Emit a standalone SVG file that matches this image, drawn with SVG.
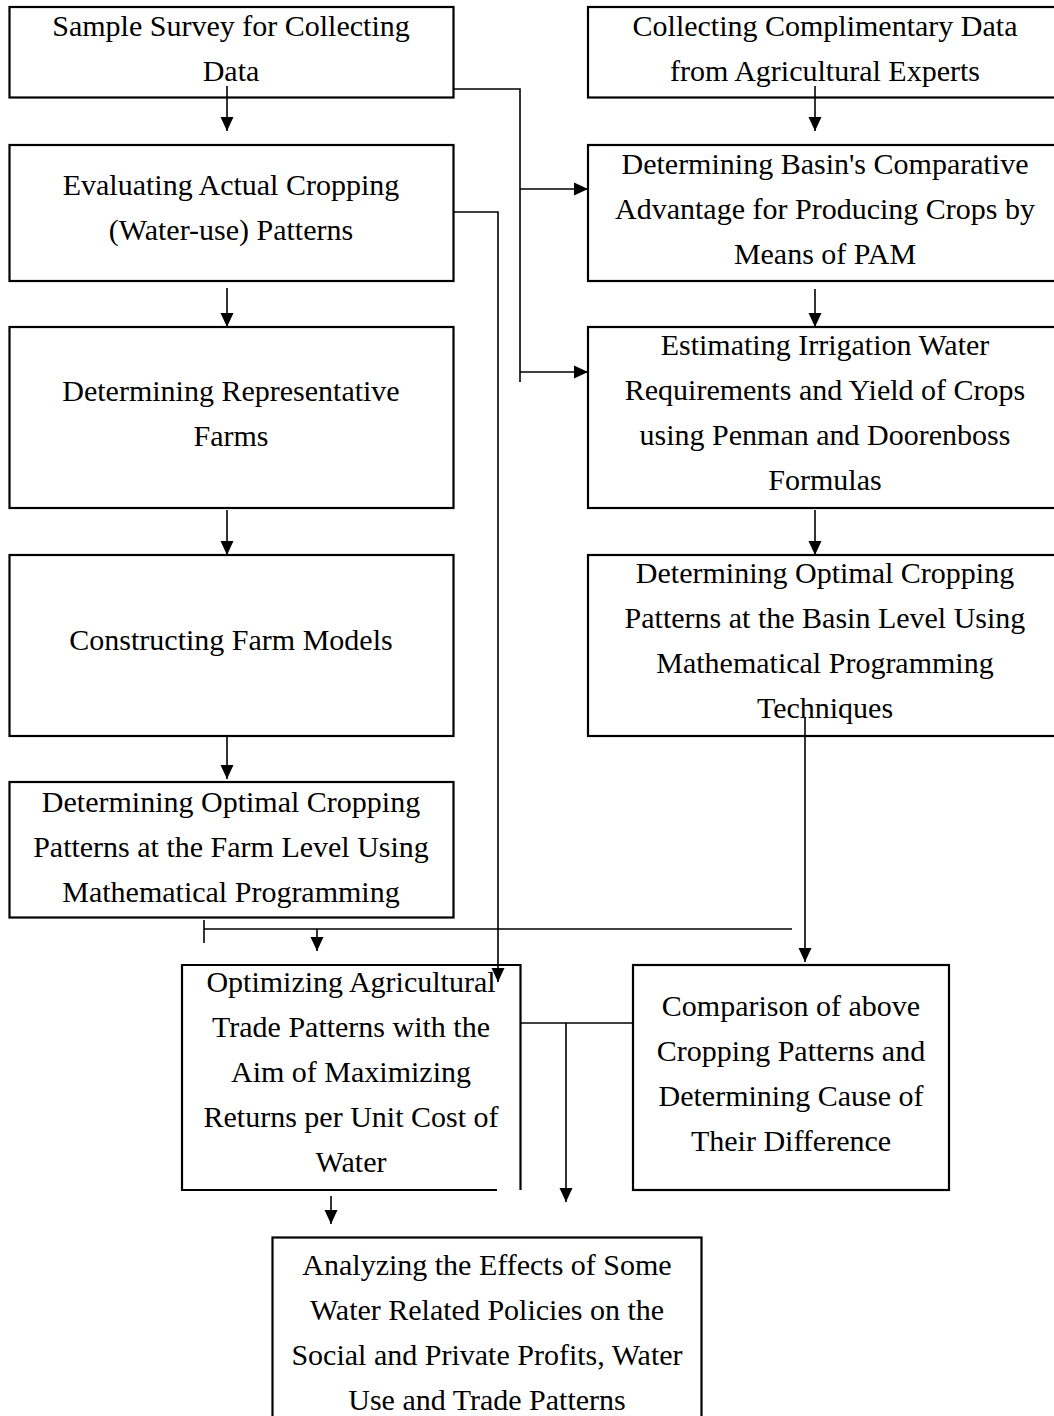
<svg xmlns="http://www.w3.org/2000/svg" width="1054" height="1416" viewBox="0 0 1054 1416">
<style>
  .box{fill:#fff;stroke:#000;stroke-width:2.2}
  .edge{fill:none;stroke:#000;stroke-width:2.2}
  .t{font-family:"Liberation Serif","Times New Roman",serif;font-size:30px;fill:#000;text-anchor:middle}
  .c{fill:none;stroke:#000;stroke-width:1.6}
</style>
<defs>
  <marker id="ah" markerUnits="userSpaceOnUse" markerWidth="14" markerHeight="14" viewBox="0 0 14 14" refX="14" refY="7" orient="auto">
    <path d="M0,0.5 L14,7 L0,13.5 Z" fill="#000"/>
  </marker>
</defs>
<rect width="1054" height="1416" fill="#fff"/>

<g id="n1"><rect class="box" x="9.5" y="7" width="444" height="90.5"/>
  <text class="t" x="231" y="36">Sample Survey for Collecting</text>
  <text class="t" x="231" y="81">Data</text></g>
<g id="n2"><rect class="box" x="9.5" y="145" width="444" height="136"/>
  <text class="t" x="231" y="195">Evaluating Actual Cropping</text>
  <text class="t" x="231" y="240">(Water-use) Patterns</text></g>
<g id="n3"><rect class="box" x="9.5" y="327" width="444" height="181"/>
  <text class="t" x="231" y="401">Determining Representative</text>
  <text class="t" x="231" y="446">Farms</text></g>
<g id="n4"><rect class="box" x="9.5" y="555" width="444" height="181"/>
  <text class="t" x="231" y="650">Constructing Farm Models</text></g>
<g id="n5"><rect class="box" x="9.5" y="782" width="444" height="135.5"/>
  <text class="t" x="231" y="812">Determining Optimal Cropping</text>
  <text class="t" x="231" y="857">Patterns at the Farm Level Using</text>
  <text class="t" x="231" y="902">Mathematical Programming</text></g>

<g id="n6"><rect class="box" x="588" y="7" width="480" height="90.5"/>
  <text class="t" x="825" y="36">Collecting Complimentary Data</text>
  <text class="t" x="825" y="81">from Agricultural Experts</text></g>
<g id="n7"><rect class="box" x="588" y="145" width="480" height="136"/>
  <text class="t" x="825" y="174">Determining Basin's Comparative</text>
  <text class="t" x="825" y="219">Advantage for Producing Crops by</text>
  <text class="t" x="825" y="264">Means of PAM</text></g>
<g id="n8"><rect class="box" x="588" y="327" width="480" height="181"/>
  <text class="t" x="825" y="355">Estimating Irrigation Water</text>
  <text class="t" x="825" y="400">Requirements and Yield of Crops</text>
  <text class="t" x="825" y="445">using Penman and Doorenboss</text>
  <text class="t" x="825" y="490">Formulas</text></g>
<g id="n9"><rect class="box" x="588" y="555" width="480" height="181"/>
  <text class="t" x="825" y="583">Determining Optimal Cropping</text>
  <text class="t" x="825" y="628">Patterns at the Basin Level Using</text>
  <text class="t" x="825" y="673">Mathematical Programming</text>
  <text class="t" x="825" y="718">Techniques</text></g>

<g id="n10"><path class="edge" d="M497,1190 H182 V965 H520.5 V1190"/>
  <text class="t" x="351" y="992">Optimizing Agricultural</text>
  <text class="t" x="351" y="1037">Trade Patterns with the</text>
  <text class="t" x="351" y="1082">Aim of Maximizing</text>
  <text class="t" x="351" y="1127">Returns per Unit Cost of</text>
  <text class="t" x="351" y="1172">Water</text></g>
<g id="n11"><rect class="box" x="633" y="965" width="316" height="225"/>
  <text class="t" x="791" y="1016">Comparison of above</text>
  <text class="t" x="791" y="1061">Cropping Patterns and</text>
  <text class="t" x="791" y="1106">Determining Cause of</text>
  <text class="t" x="791" y="1151">Their Difference</text></g>
<g id="n12"><rect class="box" x="272.5" y="1237.5" width="429" height="190"/>
  <text class="t" x="487" y="1275">Analyzing the Effects of Some</text>
  <text class="t" x="487" y="1320">Water Related Policies on the</text>
  <text class="t" x="487" y="1365">Social and Private Profits, Water</text>
  <text class="t" x="487" y="1410">Use and Trade Patterns</text></g>

<g id="connectors">
  <path class="c" d="M227,86 V131" marker-end="url(#ah)"/>
  <path class="c" d="M227,288 V327" marker-end="url(#ah)"/>
  <path class="c" d="M227,510 V555" marker-end="url(#ah)"/>
  <path class="c" d="M227,737 V779" marker-end="url(#ah)"/>
  <path class="c" d="M453,89 H520 V382"/>
  <path class="c" d="M520,189 H588" marker-end="url(#ah)"/>
  <path class="c" d="M520,372 H588" marker-end="url(#ah)"/>
  <path class="c" d="M453,212 H498 V982" marker-end="url(#ah)"/>
  <path class="c" d="M815,86 V131" marker-end="url(#ah)"/>
  <path class="c" d="M815,289 V327" marker-end="url(#ah)"/>
  <path class="c" d="M815,510 V555" marker-end="url(#ah)"/>
  <path class="c" d="M805,718 V962" marker-end="url(#ah)"/>
  <path class="c" d="M204,920 V943"/>
  <path class="c" d="M204,929 H792"/>
  <path class="c" d="M317,929 V951" marker-end="url(#ah)"/>
  <path class="c" d="M520,1023 H633"/>
  <path class="c" d="M566,1023 V1202" marker-end="url(#ah)"/>
  <path class="c" d="M331,1196 V1224" marker-end="url(#ah)"/>
</g>
</svg>
